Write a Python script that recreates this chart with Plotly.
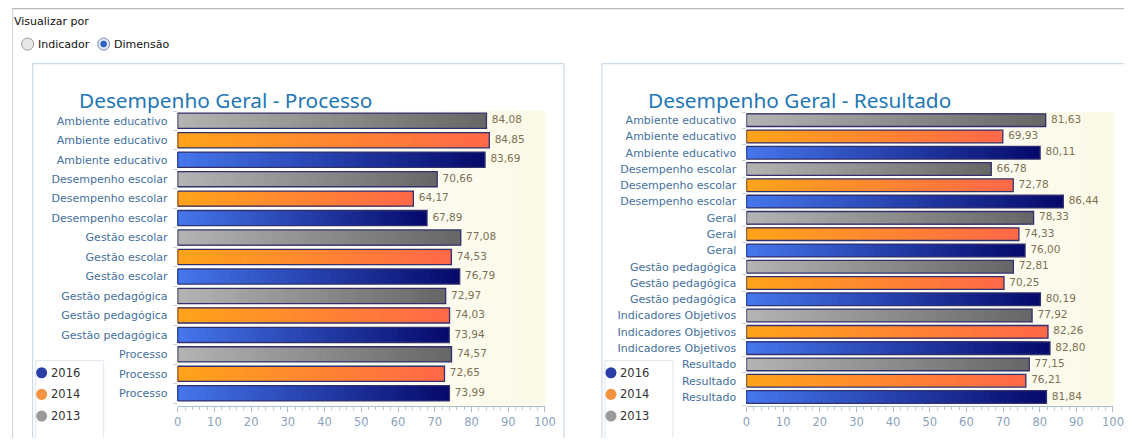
import plotly.graph_objects as go

# page is rendered with the browser's default 8px body margin,
# so the figure is sized to fit inside it exactly.
PAGE_W, PAGE_H = 1132, 446
OFF = 8
W, H = PAGE_W - 2 * OFF, PAGE_H - 2 * OFF
# measured correction of the rendering (page px -> specified px)
SX, AX = 0.986, 4.5
SY, AY = 0.9935, 0.7

# ---------------- data ----------------
series_names = ["2013", "2014", "2016"]
legend_order = ["2016", "2014", "2013"]

proc_labels = ["Ambiente educativo", "Desempenho escolar", "Gestão escolar",
               "Gestão pedagógica", "Processo"]
proc_2013 = [84.08, 70.66, 77.08, 72.97, 74.57]
proc_2014 = [84.85, 64.17, 74.53, 74.03, 72.65]
proc_2016 = [83.69, 67.89, 76.79, 73.94, 73.99]

res_labels = ["Ambiente educativo", "Desempenho escolar", "Geral",
              "Gestão pedagógica", "Indicadores Objetivos", "Resultado"]
res_2013 = [81.63, 66.78, 78.33, 72.81, 77.92, 77.15]
res_2014 = [69.93, 72.78, 74.33, 70.25, 82.26, 76.21]
res_2016 = [80.11, 86.44, 76.00, 80.19, 82.80, 81.84]

x_ticks = [0, 10, 20, 30, 40, 50, 60, 70, 80, 90, 100]

# ---------------- styles ----------------
grad = {
    "2013": ("#b4b4b4", "#666666"),
    "2014": ("#ffa41a", "#ff6848"),
    "2016": ("#4677ec", "#06096a"),
}
legend_col = {"2016": "#2b3da6", "2014": "#f5923e", "2013": "#9a9a9a"}
OUTLINE = "#30306c"
LABEL_COL = "#44709c"
TICK_COL = "#8aa2bc"
VAL_COL = "#7c7152"
TITLE_COL = "#2277b5"
NSEG = 48


def px(x):
    """target page pixel x -> paper fraction"""
    xs = (x - AX) / SX
    return (xs - OFF) / W


def py(y):
    """target page pixel y -> paper fraction"""
    ys = (y - AY) / SY
    return 1 - (ys - OFF) / H


def dom(a, b):
    return [max(0.0, min(1.0, a)), max(0.0, min(1.0, b))]


def hex2rgb(h):
    h = h.lstrip("#")
    return tuple(int(h[i:i + 2], 16) for i in (0, 2, 4))


def mix(c1, c2, t):
    a, b = hex2rgb(c1), hex2rgb(c2)
    return "rgb(%d,%d,%d)" % tuple(round(a[i] + (b[i] - a[i]) * t) for i in range(3))


def fmt(v):
    return f"{v:.2f}".replace(".", ",")


fig = go.Figure()


def add_chart(labels, s2013, s2014, s2016, xa, ya, bw):
    vals = {"2013": s2013, "2014": s2014, "2016": s2016}
    pos_all, lab_all = [], []
    for i, lab in enumerate(labels):
        for j in range(3):
            pos_all.append(3 * i + j)
            lab_all.append(lab)
    for j, name in enumerate(series_names):
        v = vals[name]
        pos = [3 * i + j for i in range(len(v))]
        c1, c2 = grad[name]
        # gradient: nested bars, longest first (darkest end), shortest last
        for k in range(NSEG):
            frac = (NSEG - k) / NSEG
            t = (NSEG - k - 0.5) / NSEG
            fig.add_trace(go.Bar(
                x=[val * frac for val in v], y=pos, orientation="h",
                width=bw, marker=dict(color=mix(c1, c2, t), line=dict(width=0)),
                xaxis=xa, yaxis=ya, showlegend=False, hoverinfo="skip"))
        fig.add_trace(go.Bar(
            x=v, y=pos, orientation="h", width=bw, name=name,
            marker=dict(color="rgba(0,0,0,0)", line=dict(color=OUTLINE, width=1.3)),
            xaxis=xa, yaxis=ya, showlegend=False))
        fig.add_trace(go.Scatter(
            x=v, y=pos, mode="markers+text", text=[fmt(val) for val in v],
            textposition="middle right",
            marker=dict(size=7, color="rgba(0,0,0,0)"),
            textfont=dict(family="DejaVu Sans", size=10.5, color=VAL_COL),
            xaxis=xa, yaxis=ya, showlegend=False, hoverinfo="skip",
            cliponaxis=False))
    return pos_all, lab_all


lp, ll = add_chart(proc_labels, proc_2013, proc_2014, proc_2016, "x", "y", 0.78)
rp, rl = add_chart(res_labels, res_2013, res_2014, res_2016, "x2", "y2", 0.78)

xaxis_common = dict(
    range=[0, 100], tickvals=x_ticks, showgrid=False, zeroline=False,
    showline=True, linecolor="#a9bed2", linewidth=1,
    ticks="outside", ticklen=5, tickcolor="#a9bed2",
    minor=dict(dtick=2, ticks="outside", ticklen=3, tickcolor="#b8c9da"),
    tickfont=dict(family="DejaVu Sans", size=11.5, color=TICK_COL),
    fixedrange=True,
)
yaxis_common = dict(
    showgrid=False, zeroline=False, showline=False,
    ticks="outside", ticklen=7, tickcolor="rgba(0,0,0,0)",
    tickfont=dict(family="DejaVu Sans", size=11, color=LABEL_COL),
    minor=dict(tick0=0.5, dtick=1, ticks="outside", ticklen=4, tickcolor="#c5d2de"),
    fixedrange=True,
)

fig.update_layout(
    width=W, height=H, autosize=False,
    margin=dict(l=0, r=0, t=0, b=0),
    paper_bgcolor="white", plot_bgcolor="rgba(0,0,0,0)",
    barmode="overlay",
    showlegend=False,
    xaxis=dict(domain=dom(px(178), px(545)), anchor="y", **xaxis_common),
    yaxis=dict(domain=dom(py(404), py(111)), anchor="x",
               range=[len(lp) - 0.35, -0.5],
               tickvals=lp, ticktext=ll, **yaxis_common),
    xaxis2=dict(domain=dom(px(746.5), px(1115)), anchor="y2", **xaxis_common),
    yaxis2=dict(domain=dom(py(404), py(112)), anchor="x2",
                range=[len(rp) - 0.45, -0.5],
                tickvals=rp, ticktext=rl, **yaxis_common),
)

shapes = []
# outer container (top and left edges, as far as the figure reaches)
shapes.append(dict(type="line", xref="paper", yref="paper", x0=0, x1=1.02,
                   y0=min(py(8), 0.999), y1=min(py(8), 0.999),
                   line=dict(color="#b9b9b9", width=1.5)))
lx = max(px(6), 0.0005)
shapes.append(dict(type="line", xref="paper", yref="paper", x0=lx, x1=lx,
                   y0=min(py(8), 0.999), y1=-0.05, line=dict(color="#d0d0d0", width=1)))
# panels
for x0, x1 in [(33, 564), (602, 1145)]:
    shapes.append(dict(type="rect", xref="paper", yref="paper", x0=px(x0), x1=px(x1),
                       y0=py(64), y1=py(470), line=dict(color="#cddbe7", width=1.2),
                       layer="below"))
# legend boxes
legend_boxes = [36, 605]
for x0 in legend_boxes:
    shapes.append(dict(type="rect", xref="paper", yref="paper", x0=px(x0), x1=px(x0 + 68),
                       y0=py(359), y1=py(470), line=dict(color="#dfe7ee", width=1),
                       layer="below"))
# plot-area cream gradient
NSTRIP = 24
for xr, yr in [("x domain", "y domain"), ("x2 domain", "y2 domain")]:
    for k in range(NSTRIP):
        t = ((k + 0.5) / NSTRIP) ** 1.5
        shapes.append(dict(type="rect", xref=xr, yref=yr,
                           x0=k / NSTRIP, x1=(k + 1) / NSTRIP + 0.002, y0=0, y1=1,
                           fillcolor=mix("#ffffff", "#fbf9e6", t), line=dict(width=0),
                           layer="below"))
# radio buttons
shapes.append(dict(type="circle", xref="paper", yref="paper",
                   x0=px(22), x1=px(34), y0=py(50.5), y1=py(38.5),
                   fillcolor="#e8e8e8", line=dict(color="#9a9a9a", width=1)))
shapes.append(dict(type="circle", xref="paper", yref="paper",
                   x0=px(98), x1=px(110), y0=py(50.5), y1=py(38.5),
                   fillcolor="#dfe8f4", line=dict(color="#7f8fa6", width=1)))
shapes.append(dict(type="circle", xref="paper", yref="paper",
                   x0=px(101), x1=px(107), y0=py(47.5), y1=py(41.5),
                   fillcolor="#2a62c8", line=dict(color="#1d4ea8", width=0.5)))

ann = [
    dict(text="Visualizar por", x=max(px(9), 0), y=py(22), xanchor="left", yanchor="middle",
         font=dict(family="DejaVu Sans", size=11, color="#111111")),
    dict(text="Indicador", x=px(36), y=py(45), xanchor="left", yanchor="middle",
         font=dict(family="DejaVu Sans", size=11, color="#111111")),
    dict(text="Dimensão", x=px(112), y=py(45), xanchor="left", yanchor="middle",
         font=dict(family="DejaVu Sans", size=11, color="#111111")),
    dict(text="Desempenho Geral - Processo", x=px(77), y=py(100), xanchor="left",
         yanchor="middle", font=dict(family="Noto Sans", size=20.8, color=TITLE_COL)),
    dict(text="Desempenho Geral - Resultado", x=px(646), y=py(100), xanchor="left",
         yanchor="middle", font=dict(family="Noto Sans", size=20.8, color=TITLE_COL)),
]

# manual legends (dot + label)
leg_y = [371, 392.5, 414]
for bx in legend_boxes:
    for name, yy in zip(legend_order, leg_y):
        cx = bx + 6
        shapes.append(dict(type="circle", xref="paper", yref="paper",
                           x0=px(cx - 5.5), x1=px(cx + 5.5), y0=py(yy + 5.5), y1=py(yy - 5.5),
                           fillcolor=legend_col[name], line=dict(width=0)))
        ann.append(dict(text=name, x=px(bx + 13), y=py(yy), xanchor="left",
                        yanchor="middle",
                        font=dict(family="DejaVu Sans", size=11.5, color="#333333")))

for a in ann:
    a.update(xref="paper", yref="paper", showarrow=False)
fig.update_layout(shapes=shapes, annotations=ann)

fig.write_html("out.html", config={"displayModeBar": False})
